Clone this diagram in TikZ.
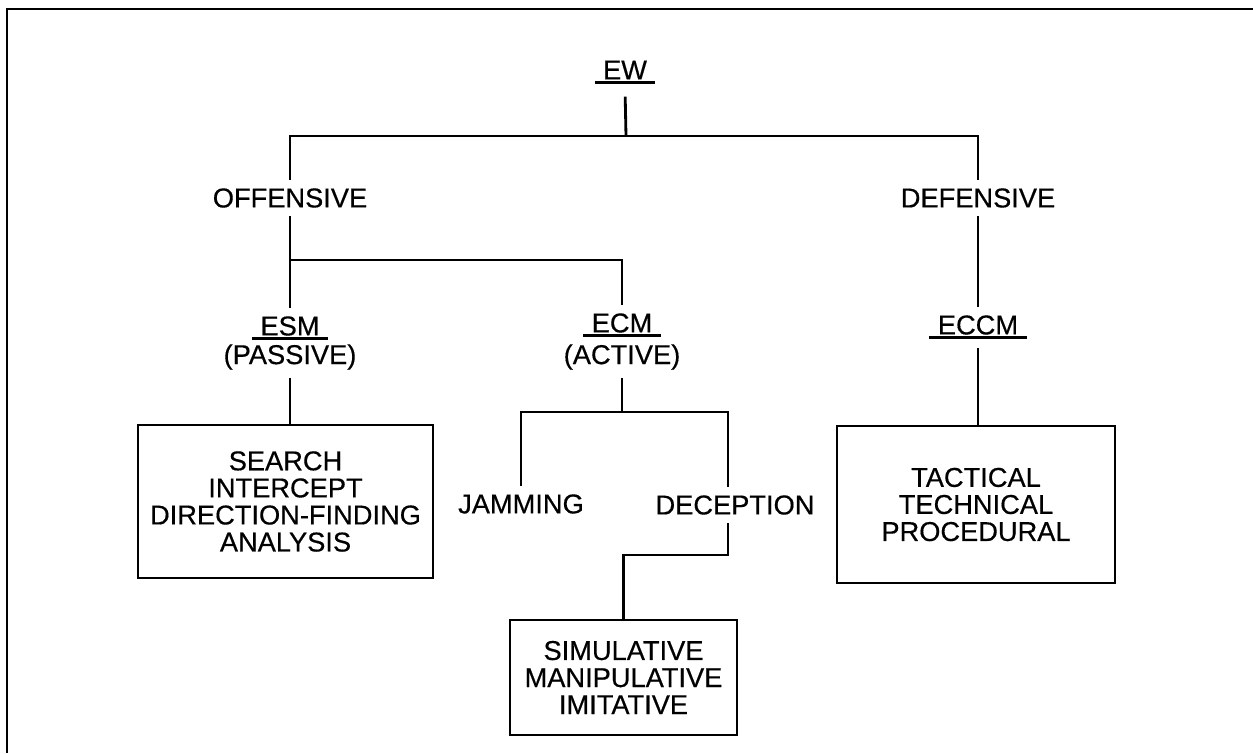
\documentclass[tikz,border=0pt]{standalone}
\usepackage{fontspec}
\setmainfont{Liberation Sans}
\newfontfamily\scanfont{Liberation Sans}[FakeBold=0.45]
\usepackage{tikz}
\usetikzlibrary{calc}

\begin{document}
\begin{tikzpicture}[font=\scanfont\fontsize{15.5}{15.4}\selectfont,
    line width=1.6pt, inner sep=4pt,
    lbl/.style={inner xsep=4pt},
    blk/.style={draw, line width=1.6pt, align=center, inner sep=0pt}]
  \useasboundingbox (0,0) rectangle (25.06,-15.06);
  % frame (top and left only)
  \draw[line width=1pt] (0.14,-15.06) -- (0.14,-0.18) -- (25.06,-0.18);

  % labels
  \node[lbl] (ew)      at (12.5,-1.4)    {EW};
  \node      (off)     at (5.8,-3.96)    {OFFENSIVE};
  \node      (def)     at (19.56,-3.96)  {DEFENSIVE};
  \node[lbl] (esm)     at (5.8,-6.52)    {ESM};
  \node      (passive) at (5.8,-7.14)    {(PASSIVE)};
  \node[lbl] (ecm)     at (12.44,-6.46)  {ECM};
  \node      (active)  at (12.44,-7.14)  {(ACTIVE)};
  \node[lbl] (eccm)    at (19.56,-6.5)   {ECCM};
  \node      (jam)     at (10.42,-10.08) {JAMMING};
  \node      (dec)     at (14.7,-10.1)   {DECEPTION};

  % boxes
  \node[blk, minimum width=5.9cm, minimum height=3.06cm] (esmbox) at (5.71,-10.03)
    {SEARCH\\INTERCEPT\\DIRECTION-FINDING\\ANALYSIS};
  \node[blk, minimum width=4.54cm, minimum height=2.3cm] (simbox) at (12.47,-13.55)
    {SIMULATIVE\\MANIPULATIVE\\IMITATIVE};
  \node[blk, minimum width=5.56cm, minimum height=3.14cm] (tacbox) at (19.52,-10.09)
    {TACTICAL\\TECHNICAL\\PROCEDURAL};

  % underlines
  \foreach \n in {ew, esm, ecm, eccm}
    \draw ([yshift=-2pt]\n.base west) -- ([yshift=-2pt]\n.base east);

  % tree
  \coordinate (topbar) at (12.52,-2.72);
  \coordinate (offbar) at (5.8,-5.2);
  \coordinate (ecmbar) at (12.44,-8.24);
  \coordinate (decbar) at (12.47,-11.1);
  \draw[shorten <=5pt] (ew.south) -- (topbar);
  \draw (off.north) |- (topbar) -| (def.north);
  \draw (off.south) -- (esm.north);
  \draw (offbar) -| (ecm.north);
  \draw (def.south) -- (eccm.north);
  \draw (passive.south) -- (passive.south |- esmbox.north);
  \draw ([yshift=-0.1cm]eccm.south) -- (eccm.south |- tacbox.north);
  \draw (active.south) -- (ecmbar);
  \draw (jam.north) |- (ecmbar) -| ([xshift=-0.14cm]dec.north);
  \draw ([xshift=-0.14cm]dec.south) |- (decbar) -- (simbox.north);
\end{tikzpicture}
\end{document}
